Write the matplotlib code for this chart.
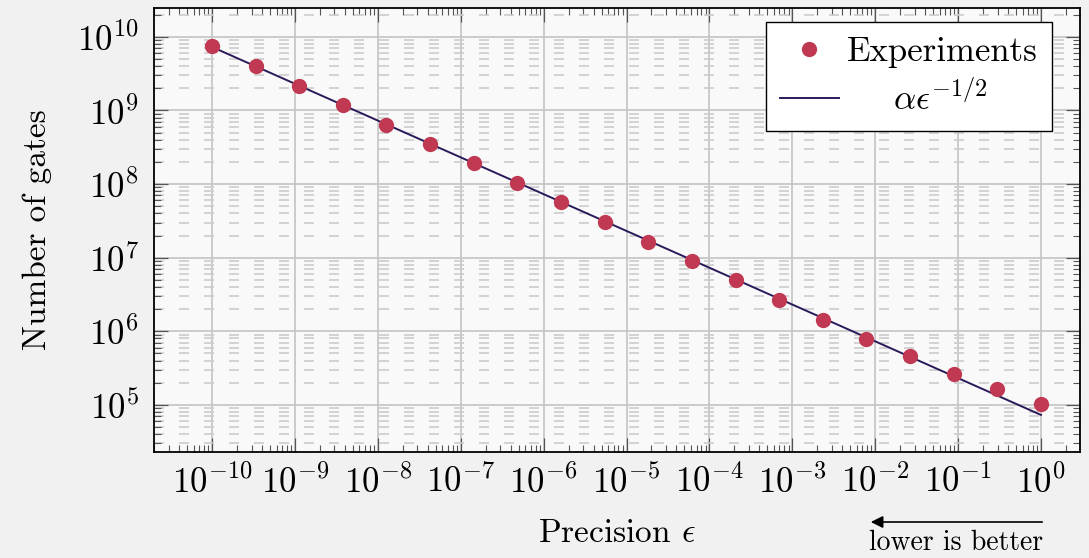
import matplotlib
matplotlib.use("Agg")
import numpy as np
import matplotlib.pyplot as plt
from matplotlib.ticker import FixedLocator, LogLocator, NullFormatter

plt.rcParams['font.family'] = 'serif'
plt.rcParams['font.serif'] = ['cmr10']
plt.rcParams['mathtext.fontset'] = 'cm'
plt.rcParams['axes.formatter.use_mathtext'] = True

# precision values of the experiments
precision = [1e-10, 3.36e-10, 1.13e-9, 3.79e-9, 1.27e-8, 4.28e-8, 1.44e-7,
             4.83e-7, 1.62e-6, 5.46e-6, 1.83e-5, 6.16e-5, 2.07e-4, 6.95e-4,
             2.34e-3, 7.85e-3, 2.64e-2, 8.86e-2, 2.98e-1, 1.0]
# measured number of gates
gates = [7.5e9, 4.0e9, 2.15e9, 1.19e9, 6.3e8, 3.5e8, 1.93e8, 1.03e8,
         5.7e7, 3.04e7, 1.62e7, 8.9e6, 4.9e6, 2.7e6, 1.44e6, 7.9e5,
         4.6e5, 2.66e5, 1.63e5, 1.03e5]
# fit coefficient of the alpha * eps^(-1/2) model
alpha = 7.3e4
fit_x = [1e-10, 1.0]
x_major = [1e-10, 1e-9, 1e-8, 1e-7, 1e-6, 1e-5, 1e-4, 1e-3, 1e-2, 1e-1, 1e0]
y_major = [1e5, 1e6, 1e7, 1e8, 1e9, 1e10]

fig = plt.figure(figsize=(10.89, 5.58), dpi=100, facecolor='#f1f1f1')
ax = fig.add_axes([0.1414, 0.19, 0.8503, 0.7953])
ax.set_facecolor('#f9f9f9')

fit_y = [alpha * e ** -0.5 for e in fit_x]
ax.plot(fit_x, fit_y, color='#2b1a5a', lw=1.4,
        label='    ' + r'$\alpha\epsilon^{-1/2}$', zorder=3)
ax.plot(precision, gates, 'o', color='#c03852', ms=11, mec='none',
        label='Experiments', zorder=4)

ax.set_xscale('log')
ax.set_yscale('log')
ax.set_xlim(10 ** -10.7, 10 ** 0.47)
ax.set_ylim(10 ** 4.36, 10 ** 10.39)

ax.xaxis.set_major_locator(FixedLocator(x_major))
ax.yaxis.set_major_locator(FixedLocator(y_major))
ax.xaxis.set_minor_locator(LogLocator(base=10, subs=np.arange(2, 10), numticks=20))
ax.yaxis.set_minor_locator(LogLocator(base=10, subs=np.arange(2, 10), numticks=20))
ax.xaxis.set_minor_formatter(NullFormatter())
ax.yaxis.set_minor_formatter(NullFormatter())

ax.grid(True, which='major', color='#c4c4c4', lw=1.2, zorder=0)
ax.grid(True, which='minor', axis='y', color='#cccccc', lw=1.2,
        linestyle=(0, (6, 9)), zorder=0)
ax.set_axisbelow(True)

ax.tick_params(which='both', direction='in', top=True, right=True,
               color='#555555', labelsize=25)
ax.tick_params(which='major', length=10, width=0.9)
ax.tick_params(axis='x', which='major', pad=9)
ax.tick_params(axis='y', which='major', pad=11)
ax.tick_params(which='minor', length=5, width=0.8)
for s in ax.spines.values():
    s.set_linewidth(1.3)
    s.set_color('black')

ax.set_xlabel(r'Precision $\epsilon$', fontsize=24, labelpad=14)
ax.set_ylabel('Number of gates', fontsize=24, labelpad=18)

handles, labels = ax.get_legend_handles_labels()
leg = ax.legend(handles[::-1], labels[::-1], loc='upper right', fontsize=25,
                fancybox=False, edgecolor='black', framealpha=1,
                handlelength=1.7, handletextpad=0.25, borderpad=0.4,
                labelspacing=0.35, borderaxespad=0,
                bbox_to_anchor=(0.9698, 0.9685))
leg.get_frame().set_linewidth(1.0)

fig.text(0.878, 0.027, 'lower is better', fontsize=20, ha='center', va='center')
fig.add_artist(matplotlib.patches.FancyArrowPatch(
    (1045 / 1089, 1 - 522 / 558), (868 / 1089, 1 - 522 / 558),
    transform=fig.transFigure, arrowstyle='-|>', mutation_scale=18,
    color='black', lw=1.2))

fig.savefig('out.png', dpi=100, facecolor=fig.get_facecolor())
